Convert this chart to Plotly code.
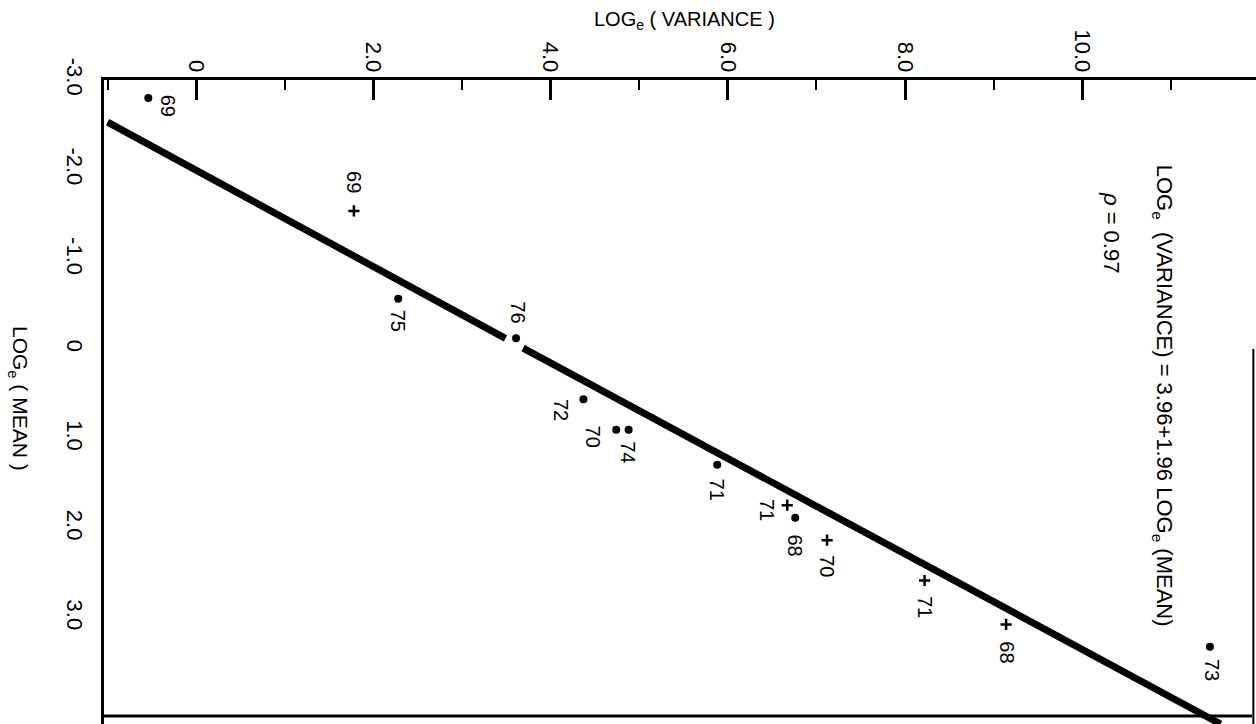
import plotly.graph_objects as go

# ---------------- data ----------------
dot_var = [-0.54, 2.28, 3.61, 4.37, 4.74, 4.88, 5.88, 6.76, 11.44]
dot_mean = [-2.80, -0.56, -0.12, 0.56, 0.90, 0.90, 1.29, 1.88, 3.32]
dot_year = ["69", "75", "76", "72", "70", "74", "71", "68", "73"]

plus_var = [1.78, 6.67, 7.12, 8.22, 9.14]
plus_mean = [-1.54, 1.74, 2.13, 2.58, 3.07]
plus_year = ["69", "71", "70", "71", "68"]

fit_intercept = 3.96
fit_slope = 1.96
fit_rho = 0.97
# fitted line as drawn, broken around the '76' point
fit_var = [-1.00, 3.49, None, 3.69, 11.56]
fit_mean = [-2.53, -0.12, None, -0.01, 4.18]

x_tickvals = [0, 2, 4, 6, 8, 10]
x_ticktext = ["0", "2.0", "4.0", "6.0", "8.0", "10.0"]
y_tickvals = [-3, -2, -1, 0, 1, 2, 3]
y_ticktext = ["-3.0", "-2.0", "-1.0", "0", "1.0", "2.0", "3.0"]

# label offsets in pixels (dx right, dy down) - style only
dot_label_off = [(20, 8), (0, 22), (2, -26), (-23, 11), (-23, 7), (0, 22), (0, 25), (0, 28), (2, 23)]
plus_label_off = [(0, -29), (-20, 5), (0, 26), (0, 26), (0, 28)]

FONT = "Liberation Sans, Arial, sans-serif"

fig = go.Figure()

fig.add_trace(go.Scatter(x=fit_var, y=fit_mean, mode="lines",
                         line=dict(color="black", width=7), hoverinfo="skip",
                         showlegend=False))

fig.add_trace(go.Scatter(x=dot_var, y=dot_mean, mode="markers",
                         marker=dict(symbol="circle", size=8, color="black"),
                         showlegend=False))
fig.add_trace(go.Scatter(x=plus_var, y=plus_mean, mode="markers",
                         marker=dict(symbol="cross-thin", size=8,
                                     line=dict(color="black", width=2.5)),
                         showlegend=False))

annotations = []
for v, m, t, (dx, dy) in zip(dot_var, dot_mean, dot_year, dot_label_off):
    annotations.append(dict(x=v, y=m, xref="x", yref="y", text=t, showarrow=False,
                            textangle=90, xshift=dx, yshift=-dy,
                            font=dict(family=FONT, size=20, color="black")))
for v, m, t, (dx, dy) in zip(plus_var, plus_mean, plus_year, plus_label_off):
    annotations.append(dict(x=v, y=m, xref="x", yref="y", text=t, showarrow=False,
                            textangle=90, xshift=dx, yshift=-dy,
                            font=dict(family=FONT, size=20, color="black")))

# equation and correlation
eq_text = "LOG<sub>e</sub>  (VARIANCE) = %.2f+%.2f LOG<sub>e</sub> (MEAN)" % (fit_intercept, fit_slope)
annotations.append(dict(x=10.91, y=0.52, xref="x", yref="y", text=eq_text,
                        showarrow=False, textangle=90,
                        font=dict(family=FONT, size=22, color="black")))
annotations.append(dict(x=10.33, y=-1.30, xref="x", yref="y",
                        text="<i>ρ</i> = %.2f" % fit_rho,
                        showarrow=False, textangle=90,
                        font=dict(family=FONT, size=22, color="black")))

# axis titles
annotations.append(dict(x=0.504, y=1.115, xref="paper", yref="paper",
                        text="LOG<sub>e</sub> ( VARIANCE )", showarrow=False,
                        font=dict(family=FONT, size=20, color="black")))
annotations.append(dict(x=-0.087, y=0.505, xref="paper", yref="paper",
                        text="LOG<sub>e</sub> ( MEAN )", showarrow=False, textangle=90,
                        font=dict(family=FONT, size=21, color="black")))

shapes = [
    # bottom frame
    dict(type="line", xref="paper", yref="y", x0=0, x1=0.9965, y0=4.09, y1=4.09,
         line=dict(color="black", width=3)),
    # right frame (partial)
    dict(type="line", xref="x", yref="y", x0=11.93, x1=11.93, y0=0.0, y1=4.18,
         line=dict(color="black", width=2)),
]

fig.update_layout(
    width=1256, height=724,
    margin=dict(l=104, r=0, t=80, b=0),
    paper_bgcolor="white", plot_bgcolor="white",
    font=dict(family=FONT, color="black"),
    annotations=annotations, shapes=shapes,
    showlegend=False,
)
fig.update_xaxes(
    side="top", range=[-1.04, 11.96],
    tickvals=x_tickvals, ticktext=x_ticktext, tickangle=90,
    tickfont=dict(family=FONT, size=22, color="black"),
    ticks="inside", ticklen=20, tickwidth=2.5, tickcolor="black",
    minor=dict(tick0=1, dtick=2, ticks="inside", ticklen=10, tickwidth=2, tickcolor="black"),
    showline=True, linecolor="black", linewidth=3,
    showgrid=False, zeroline=False, ticklabelstandoff=-3,
)
fig.update_yaxes(
    range=[4.18, -3.0],
    tickvals=y_tickvals, ticktext=y_ticktext, tickangle=90,
    tickfont=dict(family=FONT, size=22, color="black"),
    ticks="", showline=True, linecolor="black", linewidth=3,
    showgrid=False, zeroline=False, ticklabelstandoff=8,
)

fig.write_html("out.html")
